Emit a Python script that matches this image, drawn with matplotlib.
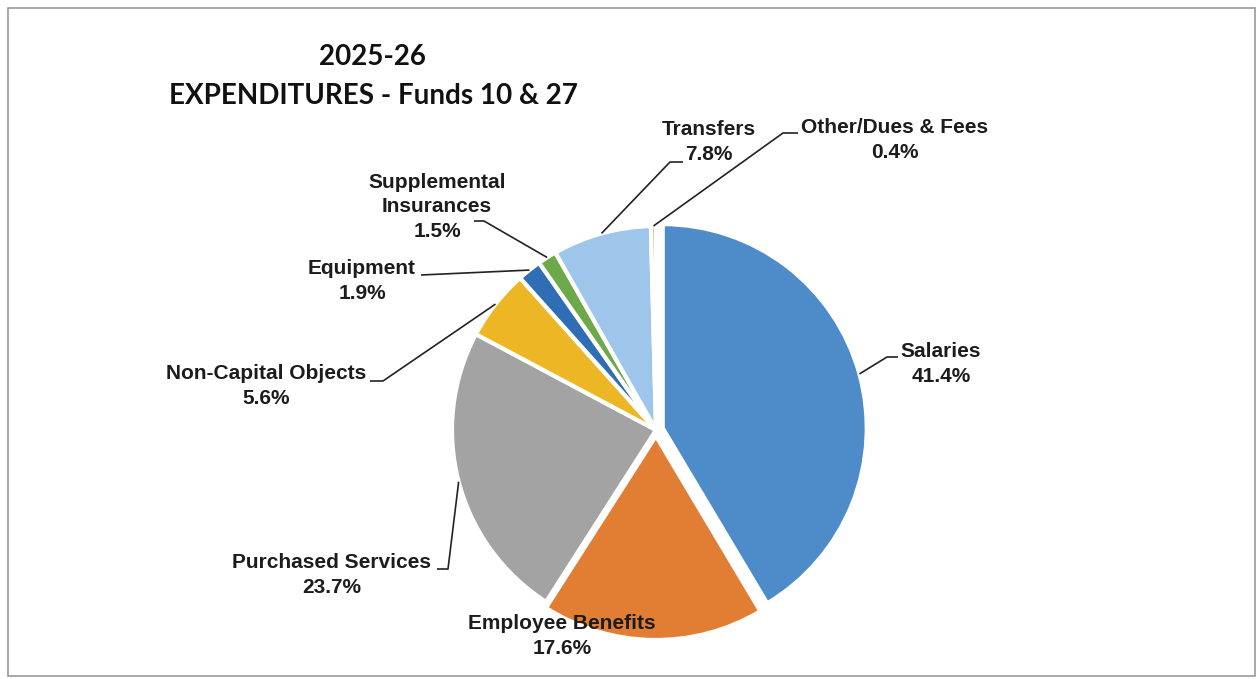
import numpy as np
import matplotlib.pyplot as plt
from matplotlib.patches import Rectangle

# data (clockwise from 12 o'clock)
labels = ["Salaries", "Employee Benefits", "Purchased Services", "Non-Capital Objects",
          "Equipment", "Supplemental\nInsurances", "Transfers", "Other/Dues & Fees"]
pcts = [41.4, 17.6, 23.7, 5.6, 1.9, 1.5, 7.8, 0.4]
colors = ["#4E8BC9", "#E27D34", "#A3A3A3", "#EDB625",
          "#2F6DB5", "#6DA94A", "#9EC6EA", "#F2B07E"]

W, H = 1259, 679
cx, cy, R = 656, H - 430, 204
explode = [7, 6, 0, 0, 0, 0, 0, 0]   # pixels

fig = plt.figure(figsize=(W / 100, H / 100), dpi=100)
ax = fig.add_axes([0, 0, 1, 1])
wedges, _ = ax.pie(pcts, colors=colors, startangle=90, counterclock=False,
                   center=(cx, cy), radius=R, explode=explode,
                   wedgeprops=dict(edgecolor="white", linewidth=3))
ax.set_xlim(0, W)
ax.set_ylim(0, H)
ax.set_aspect("equal")
ax.axis("off")

fnt = dict(family="Liberation Sans", weight="bold", fontsize=15, color="#1c1c1c")

# label centre (pixel coords, y from top), leader elbow and end
layout = {
    "Salaries": ((941, 364), (887, 357), (898, 357)),
    "Employee Benefits": ((562, 636), None, None),
    "Purchased Services": ((332, 575), (448, 569), (437, 569)),
    "Non-Capital Objects": ((266, 386), (383, 381), (370, 381)),
    "Equipment": ((362, 281), (421, 275), (421, 275)),
    "Supplemental\nInsurances": ((437, 207), (484, 221), (474, 221)),
    "Transfers": ((709, 142), (670, 162), (683, 162)),
    "Other/Dues & Fees": ((895, 140), (783, 133), (798, 133)),
}

total = sum(pcts)
cum = 0
for lab, p, ex in zip(labels, pcts, explode):
    mid = 90 - (cum + p / 2) / total * 360
    cum += p
    (tx, ty), elbow, end = layout[lab]
    ax.text(tx, H - ty, lab + "\n" + f"{p:.1f}%", ha="center", va="center",
            linespacing=1.38, **fnt)
    if elbow is None:
        continue
    a = np.radians(mid)
    px = cx + (R + ex) * np.cos(a)
    py = cy + (R + ex) * np.sin(a)
    ax.plot([px, elbow[0], end[0]], [py, H - elbow[1], H - end[1]],
            color="#222222", lw=1.2, solid_capstyle="butt")

# title
fig.text(372 / W, 1 - 57 / H, "2025-26", ha="center", va="center",
         family="Lato", weight="bold", fontsize=20, color="#111111")
fig.text(373 / W, 1 - 96 / H, "EXPENDITURES - Funds 10 & 27", ha="center", va="center",
         family="Lato", weight="bold", fontsize=20, color="#111111")

# border
fig.patches.append(Rectangle((8 / W, 3 / H), 1247 / W, 668 / H, transform=fig.transFigure,
                             fill=False, edgecolor="#9a9a9a", lw=1.2))

plt.savefig("out.png", dpi=100)
